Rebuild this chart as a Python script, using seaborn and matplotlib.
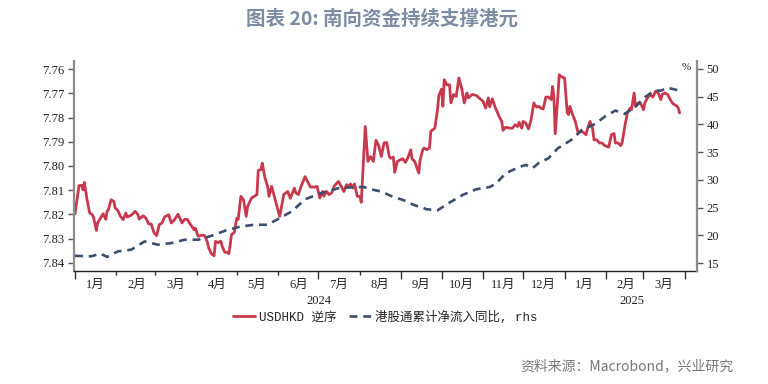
import pandas as pd
import matplotlib.pyplot as plt
import matplotlib.dates as mdates
import matplotlib.transforms as mtransforms
import seaborn as sns

# USDHKD (plotted on an inverted left axis)
fx_dates = [
    "2024-01-01", "2024-01-04", "2024-01-06", "2024-01-07", "2024-01-08", "2024-01-10", "2024-01-12",
    "2024-01-14", "2024-01-15", "2024-01-17", "2024-01-18", "2024-01-20", "2024-01-22", "2024-01-24",
    "2024-01-25", "2024-01-26", "2024-01-28", "2024-01-30", "2024-01-31", "2024-02-02", "2024-02-04",
    "2024-02-06", "2024-02-08", "2024-02-09", "2024-02-12", "2024-02-15", "2024-02-17", "2024-02-18",
    "2024-02-21", "2024-02-23", "2024-02-25", "2024-02-27", "2024-02-29", "2024-03-02", "2024-03-04",
    "2024-03-06", "2024-03-08", "2024-03-11", "2024-03-13", "2024-03-15", "2024-03-18", "2024-03-21",
    "2024-03-23", "2024-03-25", "2024-03-27", "2024-03-30", "2024-03-31", "2024-04-02", "2024-04-05",
    "2024-04-07", "2024-04-09", "2024-04-10", "2024-04-12", "2024-04-14", "2024-04-15", "2024-04-17",
    "2024-04-19", "2024-04-20", "2024-04-22", "2024-04-24", "2024-04-25", "2024-04-26", "2024-04-27",
    "2024-04-29", "2024-05-01", "2024-05-02", "2024-05-04", "2024-05-06", "2024-05-08", "2024-05-09",
    "2024-05-12", "2024-05-14", "2024-05-16", "2024-05-17", "2024-05-19", "2024-05-20", "2024-05-22",
    "2024-05-24", "2024-05-25", "2024-05-27", "2024-05-29", "2024-05-31", "2024-06-02", "2024-06-04",
    "2024-06-05", "2024-06-08", "2024-06-10", "2024-06-13", "2024-06-14", "2024-06-16", "2024-06-18",
    "2024-06-21", "2024-06-23", "2024-06-25", "2024-06-28", "2024-06-30", "2024-07-02", "2024-07-04",
    "2024-07-05", "2024-07-07", "2024-07-09", "2024-07-11", "2024-07-13", "2024-07-16", "2024-07-18",
    "2024-07-20", "2024-07-22", "2024-07-24", "2024-07-25", "2024-07-27", "2024-07-28", "2024-07-30",
    "2024-08-01", "2024-08-02", "2024-08-05", "2024-08-07", "2024-08-09", "2024-08-11", "2024-08-13",
    "2024-08-15", "2024-08-17", "2024-08-19", "2024-08-21", "2024-08-23", "2024-08-24", "2024-08-26",
    "2024-08-27", "2024-08-29", "2024-08-31", "2024-09-02", "2024-09-04", "2024-09-06", "2024-09-08",
    "2024-09-09", "2024-09-11", "2024-09-12", "2024-09-14", "2024-09-15", "2024-09-17", "2024-09-18",
    "2024-09-20", "2024-09-22", "2024-09-23", "2024-09-25", "2024-09-26", "2024-09-28", "2024-09-29",
    "2024-10-01", "2024-10-02", "2024-10-03", "2024-10-05", "2024-10-07", "2024-10-08", "2024-10-10",
    "2024-10-12", "2024-10-14", "2024-10-16", "2024-10-18", "2024-10-20", "2024-10-21", "2024-10-24",
    "2024-10-27", "2024-10-29", "2024-11-01", "2024-11-03", "2024-11-05", "2024-11-06", "2024-11-08",
    "2024-11-10", "2024-11-13", "2024-11-15", "2024-11-16", "2024-11-18", "2024-11-21", "2024-11-23",
    "2024-11-25", "2024-11-27", "2024-11-28", "2024-11-30", "2024-12-01", "2024-12-03", "2024-12-05",
    "2024-12-07", "2024-12-09", "2024-12-11", "2024-12-13", "2024-12-14", "2024-12-16", "2024-12-18",
    "2024-12-20", "2024-12-22", "2024-12-23", "2024-12-24", "2024-12-25", "2024-12-27", "2024-12-28",
    "2024-12-30", "2025-01-01", "2025-01-03", "2025-01-04", "2025-01-05", "2025-01-07", "2025-01-09",
    "2025-01-11", "2025-01-13", "2025-01-15", "2025-01-17", "2025-01-18", "2025-01-20", "2025-01-22",
    "2025-01-23", "2025-01-25", "2025-01-27", "2025-01-29", "2025-01-31", "2025-02-03", "2025-02-05",
    "2025-02-07", "2025-02-08", "2025-02-10", "2025-02-12", "2025-02-13", "2025-02-15", "2025-02-17",
    "2025-02-19", "2025-02-20", "2025-02-22", "2025-02-23", "2025-02-25", "2025-02-27", "2025-03-01",
    "2025-03-02", "2025-03-04", "2025-03-06", "2025-03-08", "2025-03-10", "2025-03-12", "2025-03-14",
    "2025-03-15", "2025-03-17", "2025-03-19", "2025-03-21", "2025-03-23", "2025-03-26", "2025-03-27",
    "2025-03-28",
]
usdhkd = [
    7.8197, 7.8081, 7.8080, 7.8098, 7.8068, 7.8139, 7.8194, 7.8201, 7.8215, 7.8266, 7.8233, 7.8215,
    7.8197, 7.8220, 7.8187, 7.8180, 7.8139, 7.8146, 7.8173, 7.8183, 7.8208, 7.8221, 7.8194, 7.8210,
    7.8203, 7.8187, 7.8200, 7.8219, 7.8205, 7.8215, 7.8238, 7.8240, 7.8274, 7.8287, 7.8242, 7.8235,
    7.8210, 7.8201, 7.8235, 7.8224, 7.8199, 7.8235, 7.8220, 7.8220, 7.8238, 7.8263, 7.8256, 7.8290,
    7.8285, 7.8287, 7.8315, 7.8338, 7.8362, 7.8370, 7.8311, 7.8316, 7.8310, 7.8331, 7.8356, 7.8356,
    7.8362, 7.8325, 7.8283, 7.8274, 7.8215, 7.8220, 7.8125, 7.8140, 7.8208, 7.8167, 7.8132, 7.8125,
    7.8118, 7.8018, 7.8015, 7.7988, 7.8049, 7.8084, 7.8125, 7.8084, 7.8125, 7.8167, 7.8208, 7.8150,
    7.8118, 7.8105, 7.8133, 7.8091, 7.8110, 7.8118, 7.8084, 7.8044, 7.8066, 7.8087, 7.8087, 7.8084,
    7.8132, 7.8105, 7.8125, 7.8105, 7.8118, 7.8110, 7.8081, 7.8064, 7.8084, 7.8105, 7.8077, 7.8084,
    7.8074, 7.8091, 7.8074, 7.8125, 7.8125, 7.8150, 7.7837, 7.7981, 7.7961, 7.7981, 7.7894, 7.7915,
    7.7961, 7.7905, 7.7903, 7.7961, 7.7968, 7.7964, 7.8026, 7.7981, 7.7975, 7.7970, 7.7985, 7.7964,
    7.7933, 7.7971, 7.7981, 7.7998, 7.8029, 7.7975, 7.7933, 7.7926, 7.7933, 7.7926, 7.7857, 7.7848,
    7.7844, 7.7768, 7.7710, 7.7683, 7.7754, 7.7644, 7.7665, 7.7665, 7.7740, 7.7705, 7.7713, 7.7637,
    7.7678, 7.7740, 7.7699, 7.7719, 7.7705, 7.7709, 7.7719, 7.7733, 7.7761, 7.7719, 7.7756, 7.7723,
    7.7756, 7.7795, 7.7816, 7.7853, 7.7840, 7.7844, 7.7844, 7.7830, 7.7837, 7.7820, 7.7844, 7.7816,
    7.7823, 7.7847, 7.7809, 7.7740, 7.7757, 7.7754, 7.7761, 7.7765, 7.7716, 7.7716, 7.7726, 7.7672,
    7.7712, 7.7867, 7.7712, 7.7624, 7.7633, 7.7637, 7.7781, 7.7788, 7.7754, 7.7788, 7.7816, 7.7861,
    7.7857, 7.7861, 7.7871, 7.7849, 7.7816, 7.7847, 7.7892, 7.7892, 7.7905, 7.7905, 7.7916, 7.7922,
    7.7871, 7.7866, 7.7905, 7.7905, 7.7916, 7.7905, 7.7837, 7.7781, 7.7761, 7.7768, 7.7699, 7.7754,
    7.7740, 7.7743, 7.7768, 7.7740, 7.7719, 7.7705, 7.7716, 7.7692, 7.7699, 7.7726, 7.7705, 7.7699,
    7.7705, 7.7726, 7.7743, 7.7753, 7.7761, 7.7781,
]

# Southbound Connect cumulative net inflow, YoY % (right axis)
flow_dates = [
    "2024-01-01", "2024-01-13", "2024-01-20", "2024-01-25", "2024-02-02", "2024-02-12", "2024-02-22",
    "2024-03-03", "2024-03-13", "2024-03-23", "2024-04-02", "2024-04-12", "2024-04-23", "2024-05-04",
    "2024-05-14", "2024-05-24", "2024-06-02", "2024-06-11", "2024-06-21", "2024-07-03", "2024-07-16",
    "2024-07-28", "2024-08-04", "2024-08-09", "2024-08-17", "2024-08-26", "2024-09-02", "2024-09-10",
    "2024-09-20", "2024-09-28", "2024-10-07", "2024-10-17", "2024-10-27", "2024-11-06", "2024-11-11",
    "2024-11-18", "2024-11-28", "2024-12-03", "2024-12-08", "2024-12-13", "2024-12-20", "2024-12-27",
    "2025-01-06", "2025-01-14", "2025-01-24", "2025-01-31", "2025-02-08", "2025-02-15", "2025-02-23",
    "2025-03-02", "2025-03-09", "2025-03-14", "2025-03-19", "2025-03-28",
]
flow_yoy = [
    16.3, 16.2, 16.7, 16.1, 17.1, 17.4, 18.9, 18.3, 18.6, 19.2, 19.2, 19.9, 20.9, 21.6,
    21.9, 21.9, 23.1, 24.3, 26.5, 27.6, 28.5, 28.7, 28.7, 28.3, 27.9, 26.9, 26.4, 25.5,
    24.7, 24.5, 25.9, 27.3, 28.3, 28.7, 29.4, 31.2, 32.3, 32.7, 32.1, 33.1, 33.9, 35.7,
    37.2, 39.0, 40.1, 41.4, 42.5, 41.9, 43.2, 44.9, 46.1, 46.1, 46.6, 46.1,
]

left_ticks = [7.76, 7.77, 7.78, 7.79, 7.80, 7.81, 7.82, 7.83, 7.84]
right_ticks = [15, 20, 25, 30, 35, 40, 45, 50]
year_labels = ["2024", "2025"]
fx_label = "USDHKD 逆序"
flow_label = "港股通累计净流入同比, rhs"

RED = "#C9394E"
BLUE = "#3D4E6E"
GREY = "#8C8C8C"

df_fx = pd.DataFrame({"date": pd.to_datetime(fx_dates), "value": usdhkd})
df_flow = pd.DataFrame({"date": pd.to_datetime(flow_dates), "value": flow_yoy})

sns.set_style("ticks")
plt.rcParams['font.family'] = ['Liberation Serif', 'Noto Sans CJK SC']
CJK = ['Noto Sans CJK SC', 'DejaVu Sans']
MONO = ['Liberation Mono', 'Noto Sans CJK SC']

fig = plt.figure(figsize=(7.68, 3.84), dpi=100)
ax = fig.add_axes([74 / 768, 1 - 271 / 384, (697 - 74) / 768, (271 - 61) / 384])

sns.lineplot(data=df_fx, x="date", y="value", ax=ax, color=RED, lw=2.0, label=fx_label, legend=False)
ax2 = ax.twinx()
sns.lineplot(data=df_flow, x="date", y="value", ax=ax2, color=BLUE, lw=1.9,
             dashes=False, label=flow_label, legend=False)
ax2.lines[0].set_dashes((3.0, 2.2))

# axes limits (left inverted, aligned with right)
ax.set_ylim(7.8433, 7.7567)
ax2.set_ylim(13.56, 51.44)
ax.set_xlim(pd.Timestamp("2023-12-31 06:00"), pd.Timestamp("2025-04-10"))

ax.set_yticks(left_ticks)
ax.set_yticklabels([f"{v:.2f}" for v in left_ticks])
ax2.set_yticks(right_ticks)
ax2.set_yticklabels([str(v) for v in right_ticks])
ax.set_xlabel("")
ax.set_ylabel("")
ax2.set_ylabel("")

for a in (ax, ax2):
    a.spines['top'].set_visible(False)
ax.spines['right'].set_visible(False)
ax2.spines['left'].set_visible(False)
ax2.spines['bottom'].set_visible(False)
ax.spines['left'].set_color(GREY)
ax.spines['left'].set_linewidth(1.6)
ax2.spines['right'].set_color(GREY)
ax2.spines['right'].set_linewidth(1.6)
ax.spines['bottom'].set_color("#222222")
ax.spines['bottom'].set_linewidth(1.0)

ax.tick_params(axis='y', direction='out', length=4, width=1, color="#555555",
               labelsize=9, labelcolor="#222222", pad=3)
ax2.tick_params(axis='y', direction='out', length=4, width=1, color="#555555",
                labelsize=9, labelcolor="#222222", pad=3)

# month ticks at boundaries, month labels centred in each month
ax.xaxis.set_major_locator(mdates.MonthLocator())
ax.xaxis.set_major_formatter(plt.NullFormatter())
ax.xaxis.set_minor_locator(mdates.MonthLocator(bymonthday=16))
ax.xaxis.set_minor_formatter(plt.FuncFormatter(lambda x, pos: f"{mdates.num2date(x).month}月"))
ax.tick_params(axis='x', which='major', direction='out', length=3, width=1, color="#333333")
ax.tick_params(axis='x', which='minor', length=0, labelsize=9, labelcolor="#222222", pad=6)
for t in ax.xaxis.get_major_ticks():
    if mdates.num2date(t.get_loc()).month == 1:
        t.tick1line.set_markersize(6)

trans = mtransforms.blended_transform_factory(ax.transData, ax.transAxes)
ax.text(pd.Timestamp("2024-07-01"), -0.143, year_labels[0], transform=trans,
        ha='center', va='center', fontsize=9, color="#222222")
ax.text(pd.Timestamp("2025-02-20"), -0.143, year_labels[1], transform=trans,
        ha='center', va='center', fontsize=9, color="#222222")

ax2.text(0.982, 0.967, "%", transform=ax2.transAxes, ha='center', va='center',
         fontsize=8, color="#222222")

# legend
h1, l1 = ax.get_legend_handles_labels()
h2, l2 = ax2.get_legend_handles_labels()
fig.legend(h1 + h2, l1 + l2, loc='center', bbox_to_anchor=(385 / 768, 1 - 317 / 384),
           ncol=2, frameon=False, handlelength=1.8, columnspacing=1.0, handletextpad=0.3,
           prop={'family': MONO, 'size': 9})

# title and source
fig.text(382 / 768, 1 - 19 / 384, "图表 20: 南向资金持续支撑港元", ha='center', va='center',
         fontsize=14, fontweight='bold', color="#7D8CA3", family=CJK)
fig.text(733 / 768, 1 - 366 / 384, "资料来源：Macrobond，兴业研究", ha='right', va='center',
         fontsize=10, color="#777777", family=CJK)

fig.savefig("out.png", dpi=100)
